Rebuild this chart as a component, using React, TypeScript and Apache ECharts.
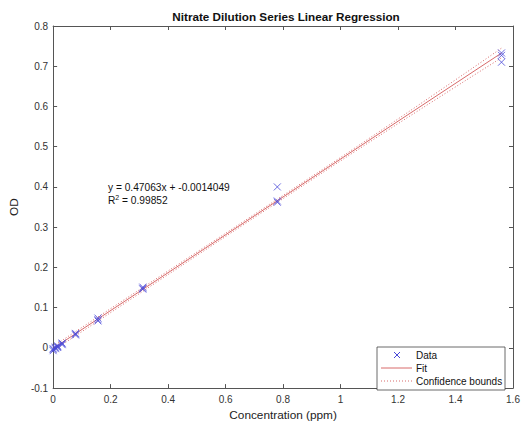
import React, { useEffect, useRef } from "react";
import * as echarts from "echarts";

const concentrations = [1.56, 0.78, 0.312, 0.156, 0.078, 0.0312, 0.0156, 0.0078, 0];
const odRep1 = [0.733, 0.4, 0.151, 0.074, 0.036, 0.012, 0.005, 0.002, -0.002];
const odRep2 = [0.727, 0.365, 0.148, 0.07, 0.034, 0.01, 0.003, 0.0, -0.004];
const odRep3 = [0.71, 0.362, 0.146, 0.067, 0.032, 0.008, 0.001, -0.002, -0.007];
const fitX = [0, 1.56];
const fitY = [-0.0014049, 0.7327779];
const boundX = [0, 0.39, 0.78, 1.17, 1.56];
const upperBound = [0.004, 0.1865, 0.3695, 0.5545, 0.745];
const lowerBound = [-0.007, 0.1775, 0.3615, 0.5435, 0.721];
const xTicks = [0, 0.2, 0.4, 0.6, 0.8, 1, 1.2, 1.4, 1.6];
const legendNames = ["Data", "Fit", "Confidence bounds"];

const FONT = "Liberation Sans, Arial, Helvetica, sans-serif";
const AX = "#555";
const BLUE = "#4848d8";
const RED = "#d86a6a";

export default function App() {
  const ref = useRef<HTMLDivElement>(null);
  useEffect(() => {
    if (!ref.current) return;
    const chart = echarts.init(ref.current, undefined, { renderer: "svg" });
    const pts: number[][] = [];
    [odRep1, odRep2, odRep3].forEach((rep) =>
      rep.forEach((v, i) => pts.push([concentrations[i], v]))
    );
    const xSym = "path://M0,0L10,10M10,0L0,10";
    const axisCommon = {
      type: "value" as const,
      axisLine: { show: true, onZero: false, lineStyle: { color: AX, width: 1 } },
      axisTick: { show: true, inside: true, length: 4, lineStyle: { color: AX } },
      splitLine: { show: false },
    };
    const lx = 377, ly = 347, lw = 128, lh = 43;
    const rowY = [355, 368, 381];
    chart.setOption({
      animation: false,
      textStyle: { fontFamily: FONT },
      title: {
        text: "Nitrate Dilution Series Linear Regression",
        left: 281,
        textAlign: "center",
        top: 5,
        textStyle: { fontSize: 11.7, fontWeight: "bold", color: "#111", fontFamily: FONT },
      },
      grid: { left: 50, right: 16, top: 26, bottom: 31, containLabel: false },
      xAxis: [
        {
          ...axisCommon,
          min: 0,
          max: 1.6,
          interval: 0.2,
          position: "bottom",
          name: "Concentration (ppm)",
          nameLocation: "middle",
          nameGap: 19,
          nameTextStyle: { fontSize: 11.8, color: "#222", fontFamily: FONT },
          axisLabel: {
            fontSize: 10,
            color: "#333",
            margin: 6,
            formatter: (v: number) => {
              const t = xTicks.find((x) => Math.abs(x - v) < 1e-9);
              return t === undefined ? "" : String(t);
            },
          },
        },
        {
          ...axisCommon,
          min: 0,
          max: 1.6,
          interval: 0.2,
          position: "top",
          axisLabel: { show: false },
        },
      ],
      yAxis: [
        {
          ...axisCommon,
          min: -0.1,
          max: 0.8,
          interval: 0.1,
          position: "left",
          name: "OD",
          nameLocation: "middle",
          nameGap: 25,
          nameTextStyle: { fontSize: 11.8, color: "#222", fontFamily: FONT },
          axisLabel: {
            fontSize: 10,
            color: "#333",
            margin: 5,
            formatter: (v: number) => String(Math.round(v * 10) / 10),
          },
        },
        {
          ...axisCommon,
          min: -0.1,
          max: 0.8,
          interval: 0.1,
          position: "right",
          axisLabel: { show: false },
        },
      ],
      series: [
        {
          name: "Confidence bounds",
          type: "line",
          data: boundX.map((x, i) => [x, upperBound[i]]),
          symbol: "none",
          smooth: true,
          lineStyle: { color: RED, width: 1, type: [1, 2] },
          z: 2,
        },
        {
          name: "Confidence bounds",
          type: "line",
          data: boundX.map((x, i) => [x, lowerBound[i]]),
          symbol: "none",
          smooth: true,
          lineStyle: { color: RED, width: 1, type: [1, 2] },
          z: 2,
        },
        {
          name: "Fit",
          type: "line",
          data: fitX.map((x, i) => [x, fitY[i]]),
          symbol: "none",
          lineStyle: { color: RED, width: 1 },
          z: 3,
        },
        {
          name: "Data",
          type: "scatter",
          data: pts,
          symbol: xSym,
          symbolSize: 7,
          itemStyle: { color: "rgba(0,0,0,0)", borderColor: BLUE, borderWidth: 1 },
          z: 4,
        },
      ],
      graphic: [
        {
          type: "text",
          left: 108,
          top: 182,
          style: {
            text: "y = 0.47063x + -0.0014049",
            fontSize: 10.2,
            fill: "#111",
            fontFamily: FONT,
          },
        },
        {
          type: "text",
          left: 108,
          top: 194,
          style: {
            text: "R{sup|2} = 0.99852",
            fontSize: 10.2,
            fill: "#111",
            fontFamily: FONT,
            rich: {
              sup: { fontSize: 7, verticalAlign: "top", padding: [0, 0, 5, 0], fill: "#111" },
            },
          },
        },
        {
          type: "rect",
          z: 50,
          shape: { x: lx, y: ly, width: lw, height: lh },
          style: { fill: "#fff", stroke: "#444", lineWidth: 0.8 },
        },
        {
          type: "line",
          z: 51,
          shape: { x1: 394, y1: rowY[0] - 3, x2: 400, y2: rowY[0] + 3 },
          style: { stroke: BLUE, lineWidth: 1 },
        },
        {
          type: "line",
          z: 51,
          shape: { x1: 400, y1: rowY[0] - 3, x2: 394, y2: rowY[0] + 3 },
          style: { stroke: BLUE, lineWidth: 1 },
        },
        {
          type: "line",
          z: 51,
          shape: { x1: 381, y1: rowY[1], x2: 412, y2: rowY[1] },
          style: { stroke: RED, lineWidth: 1 },
        },
        {
          type: "line",
          z: 51,
          shape: { x1: 381, y1: rowY[2], x2: 412, y2: rowY[2] },
          style: { stroke: RED, lineWidth: 1, lineDash: [1, 2] },
        },
        ...legendNames.map((n, i) => ({
          type: "text",
          z: 51,
          x: 416,
          y: rowY[i],
          style: {
            text: n,
            fontSize: 10,
            fill: "#111",
            fontFamily: FONT,
            verticalAlign: "middle",
          },
        })),
      ],
    });
    return () => chart.dispose();
  }, []);
  return <div ref={ref} style={{ width: 529, height: 426, position: "absolute", left: 0, top: 0 }} />;
}
